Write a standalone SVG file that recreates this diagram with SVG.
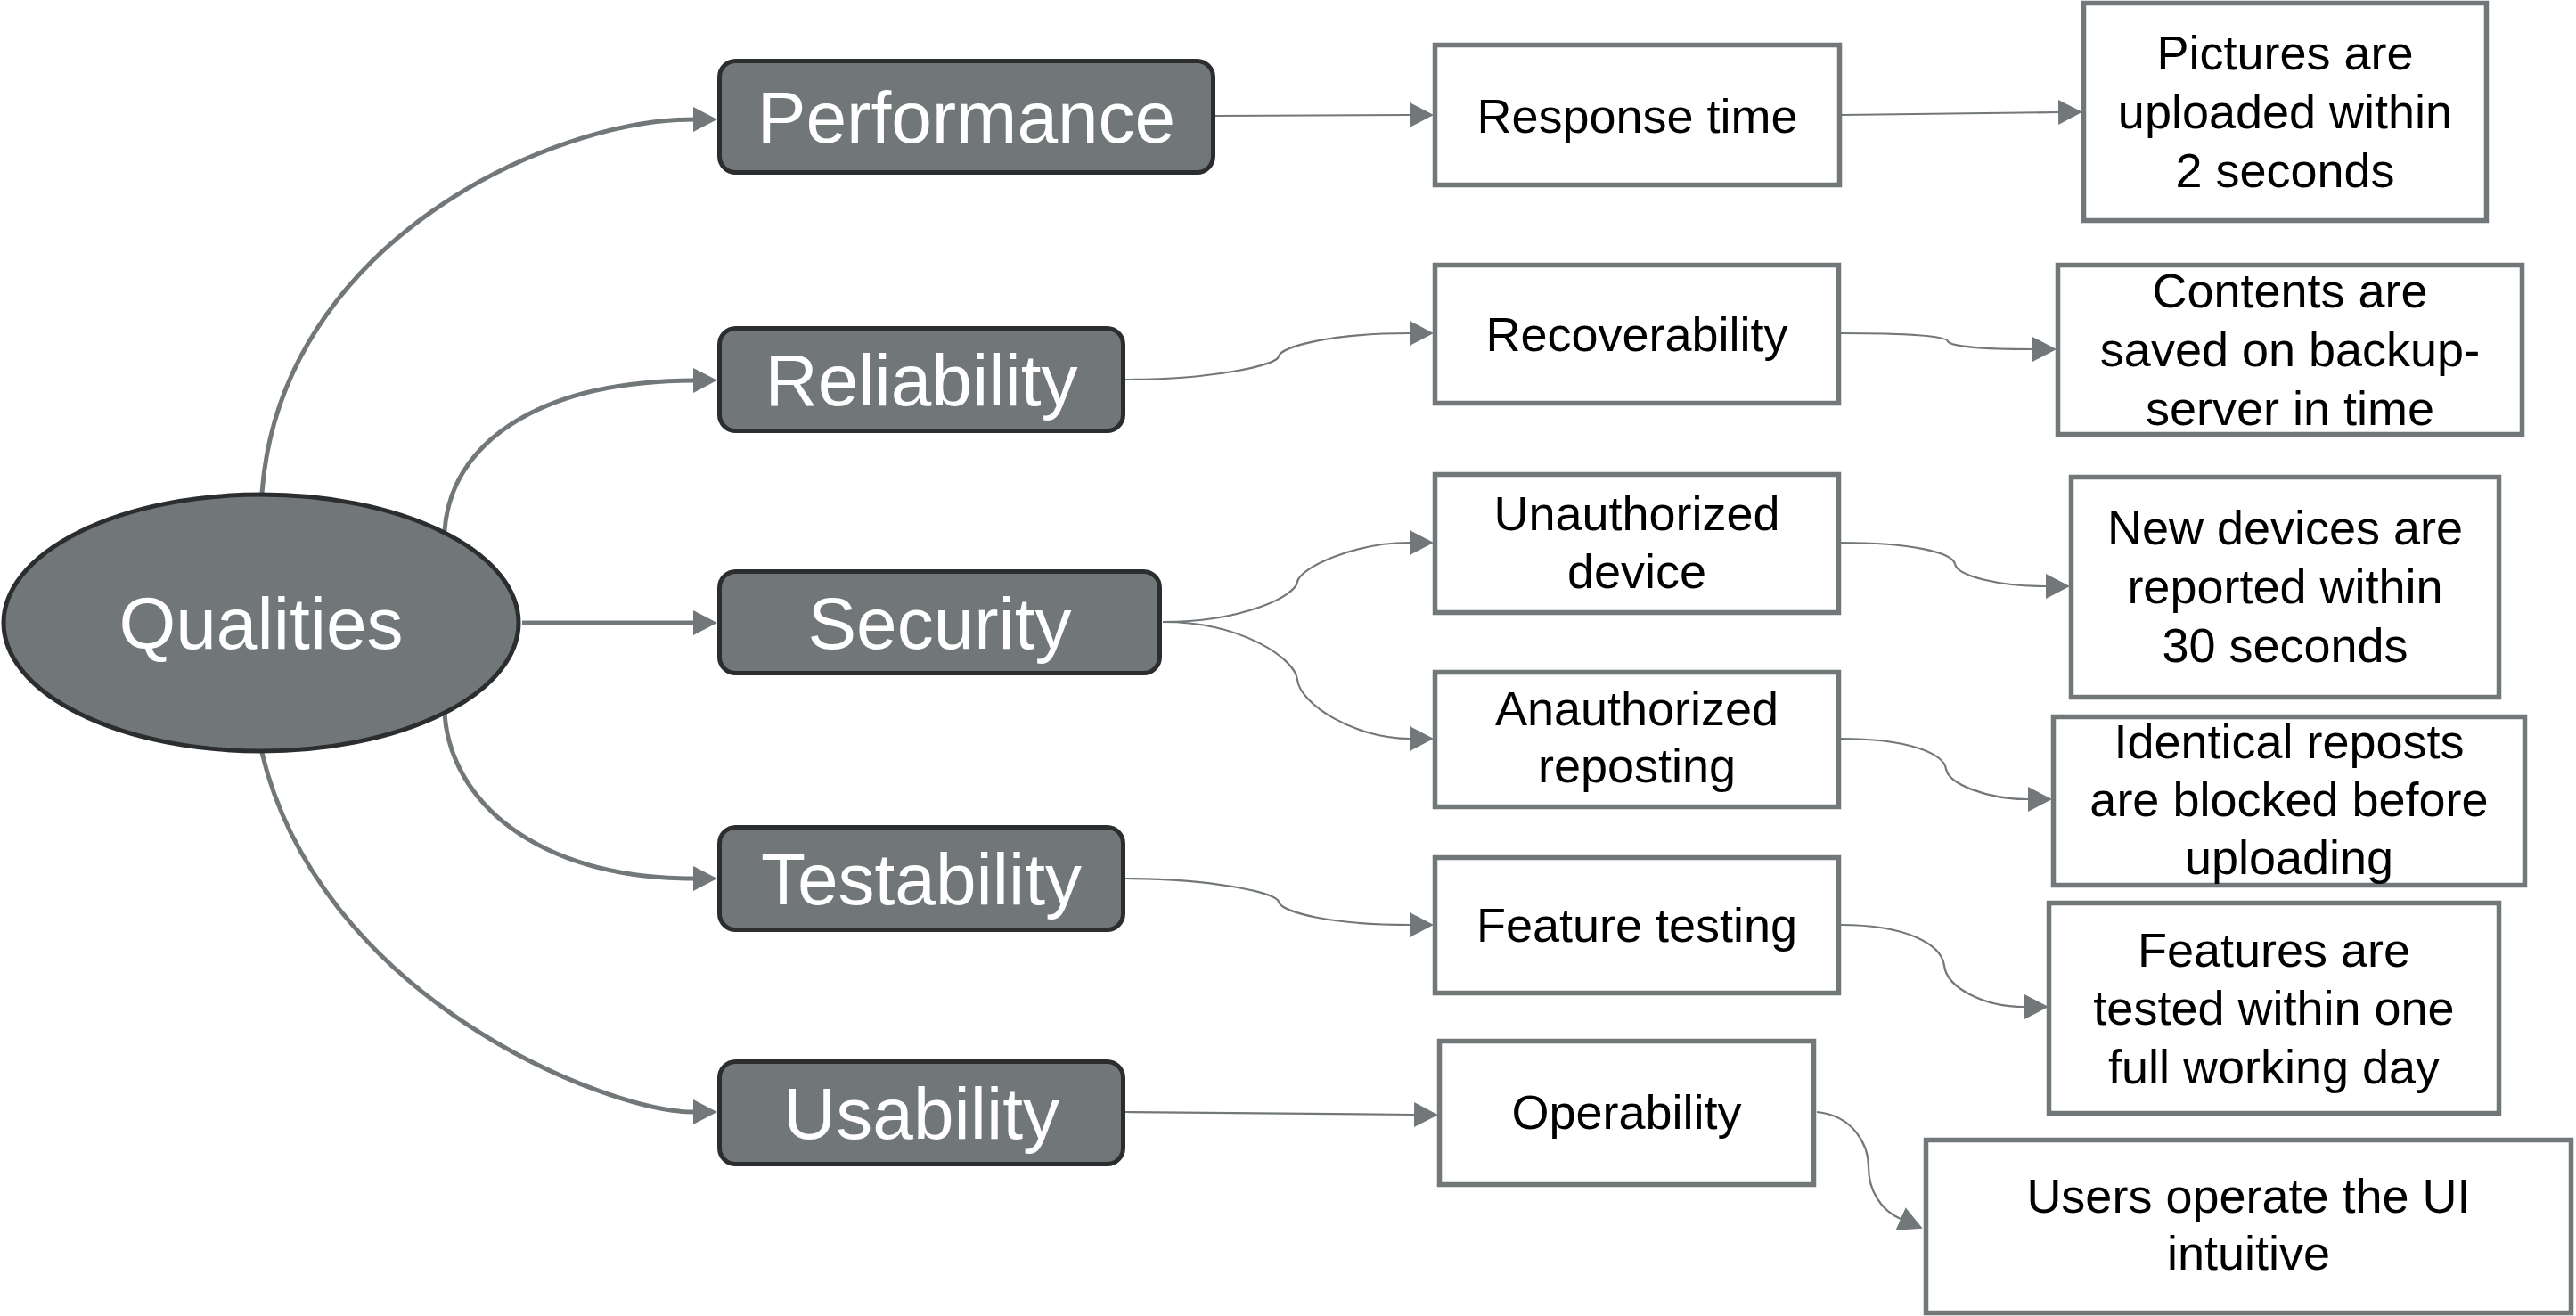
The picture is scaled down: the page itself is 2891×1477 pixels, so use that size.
<svg xmlns="http://www.w3.org/2000/svg" width="2891" height="1477" viewBox="0 0 2891 1477">
<defs>
<style>
.main rect, .main ellipse{fill:#717678;stroke:#2b2d2f;stroke-width:5}
.main text{fill:#ffffff;font-family:"Liberation Sans",Arial,sans-serif;font-size:82px;text-anchor:middle}
.box rect{fill:#ffffff;stroke:#72777a;stroke-width:5.5}
.box text{fill:#000000;font-family:"Liberation Sans",Arial,sans-serif;font-size:54px;text-anchor:middle}
.thick{fill:none;stroke:#72777a;stroke-width:5;marker-end:url(#ah)}
.thin{fill:none;stroke:#72777a;stroke-width:2.2;marker-end:url(#ah)}
</style>
<marker id="ah" markerUnits="userSpaceOnUse" markerWidth="27" markerHeight="28" viewBox="0 0 26 27" refX="0" refY="13.5" orient="auto">
<path d="M0,0 L26,13.5 L0,27 Z" fill="#72777a"/>
</marker>
</defs>
<rect x="0" y="0" width="2891" height="1477" fill="#ffffff"/>

<g id="connectors">
<path class="thick" d="M294,553 C315,270 620,134 778,134"/>
<path class="thick" d="M499,596 C505,500 600,428 778,427"/>
<path class="thick" d="M586,699 L778,699"/>
<path class="thick" d="M499,801 C505,897 600,986 778,986"/>
<path class="thick" d="M294,845 C360,1120 680,1248 778,1248"/>

<path class="thin" d="M1364,130 L1582,129"/>
<path class="thin" d="M1263,426 C1360,426 1433,410 1435,400 C1438,389 1494,374 1582,374"/>
<path class="thin" d="M1305,698 C1395,698 1454,669 1456,653 C1459,637 1520,609 1582,609"/>
<path class="thin" d="M1305,698 C1395,698 1454,740 1456,763 C1459,790 1520,829 1582,829"/>
<path class="thin" d="M1263,986 C1360,986 1433,1002 1435,1012 C1438,1024 1494,1038 1582,1038"/>
<path class="thin" d="M1263,1248 L1587,1251"/>

<path class="thin" d="M2067,129 L2310,126"/>
<path class="thin" d="M2066,374 C2140,374 2184,377 2186,383 C2189,389 2230,392 2281,392"/>
<path class="thin" d="M2066,609 C2145,609 2191,620 2194,633 C2197,647 2245,658 2296,658"/>
<path class="thin" d="M2066,829 C2140,829 2181,845 2184,863 C2187,880 2230,897 2276,897"/>
<path class="thin" d="M2066,1038 C2140,1038 2179,1060 2182,1084 C2185,1108 2225,1130 2272,1130"/>
<path class="thin" d="M2039,1248 C2080,1252 2097,1285 2097,1310 C2097,1335 2110,1358 2133,1368"/>
</g>

<g id="qualities" class="main">
<ellipse cx="293" cy="699" rx="289" ry="144"/>
<text x="293" y="728">Qualities</text>
</g>
<g id="performance" class="main">
<rect x="807.5" y="68.5" width="554" height="125" rx="18"/>
<text x="1084.5" y="160">Performance</text>
</g>
<g id="reliability" class="main">
<rect x="807.5" y="368.5" width="453" height="115" rx="18"/>
<text x="1034" y="455">Reliability</text>
</g>
<g id="security" class="main">
<rect x="807.5" y="641.5" width="494" height="114" rx="18"/>
<text x="1054.5" y="728">Security</text>
</g>
<g id="testability" class="main">
<rect x="807.5" y="928.5" width="453" height="115" rx="18"/>
<text x="1034" y="1015">Testability</text>
</g>
<g id="usability" class="main">
<rect x="807.5" y="1191.5" width="453" height="115" rx="18"/>
<text x="1034" y="1278">Usability</text>
</g>

<g id="response-time" class="box">
<rect x="1610.5" y="50.5" width="454" height="157"/>
<text x="1837.5" y="149">Response time</text>
</g>
<g id="recoverability" class="box">
<rect x="1610.5" y="297.5" width="453" height="155"/>
<text x="1837" y="394">Recoverability</text>
</g>
<g id="unauthorized-device" class="box">
<rect x="1610.5" y="532.5" width="453" height="155"/>
<text x="1837" y="595">Unauthorized</text>
<text x="1837" y="660">device</text>
</g>
<g id="anauthorized-reposting" class="box">
<rect x="1610.5" y="754.5" width="453" height="151"/>
<text x="1837" y="814">Anauthorized</text>
<text x="1837" y="878">reposting</text>
</g>
<g id="feature-testing" class="box">
<rect x="1610.5" y="962.5" width="453" height="152"/>
<text x="1837" y="1057">Feature testing</text>
</g>
<g id="operability" class="box">
<rect x="1615.5" y="1168.5" width="420" height="161"/>
<text x="1825.5" y="1267">Operability</text>
</g>

<g id="pictures" class="box">
<rect x="2338.5" y="3.5" width="452" height="244"/>
<text x="2564.5" y="78">Pictures are</text>
<text x="2564.5" y="144">uploaded within</text>
<text x="2564.5" y="210">2 seconds</text>
</g>
<g id="contents" class="box">
<rect x="2309.5" y="297.5" width="521" height="190"/>
<text x="2570" y="345">Contents are</text>
<text x="2570" y="411">saved on backup-</text>
<text x="2570" y="477">server in time</text>
</g>
<g id="new-devices" class="box">
<rect x="2324.5" y="535.5" width="480" height="247"/>
<text x="2564.5" y="611">New devices are</text>
<text x="2564.5" y="677">reported within</text>
<text x="2564.5" y="743">30 seconds</text>
</g>
<g id="identical-reposts" class="box">
<rect x="2304.5" y="804.5" width="529" height="189"/>
<text x="2569" y="851">Identical reposts</text>
<text x="2569" y="916">are blocked before</text>
<text x="2569" y="981">uploading</text>
</g>
<g id="features" class="box">
<rect x="2299.5" y="1013.5" width="505" height="236"/>
<text x="2552" y="1085">Features are</text>
<text x="2552" y="1150">tested within one</text>
<text x="2552" y="1216">full working day</text>
</g>
<g id="users" class="box">
<rect x="2161.5" y="1279.5" width="724" height="194"/>
<text x="2523.5" y="1361">Users operate the UI</text>
<text x="2523.5" y="1425">intuitive</text>
</g>
</svg>
